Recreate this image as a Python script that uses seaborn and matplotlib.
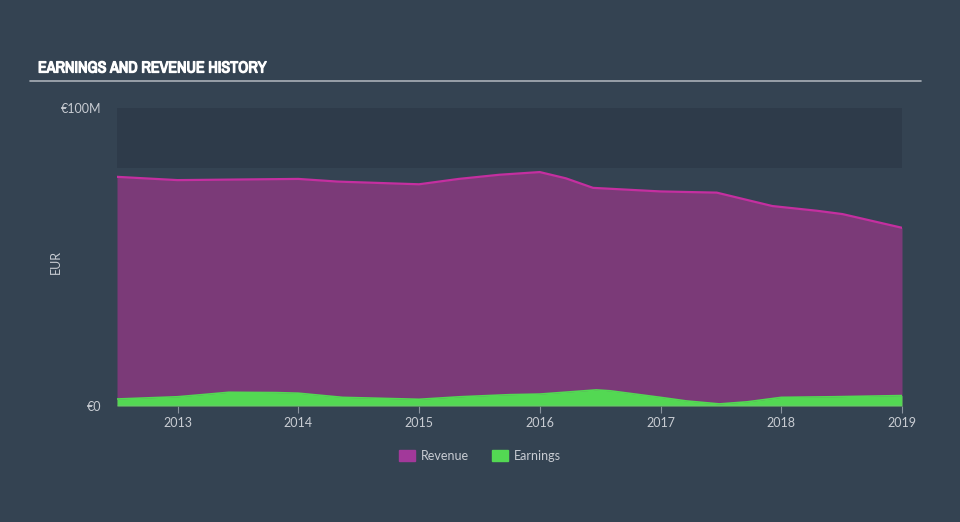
import matplotlib
matplotlib.use("Agg")
import matplotlib.pyplot as plt
from matplotlib import font_manager
from matplotlib.patches import Patch
import matplotlib.patheffects as pe
import seaborn as sns
import pandas as pd

# ---- data (€ millions) ----
revenue_dates = ["2012-07-01", "2013-01-01", "2014-01-01", "2014-05-01", "2015-01-01",
                 "2015-05-01", "2015-09-01", "2016-01-01", "2016-03-20", "2016-06-10",
                 "2017-01-01", "2017-06-20", "2017-12-05", "2018-04-20", "2018-07-05",
                 "2019-01-01"]
revenue = [76.9, 75.8, 76.2, 75.3, 74.4, 76.2, 77.6, 78.5, 76.4, 73.2,
           72.0, 71.6, 67.1, 65.5, 64.4, 59.8]

earnings_dates = ["2012-07-01", "2013-01-01", "2013-04-05", "2013-06-05", "2013-10-25",
                  "2014-01-01", "2014-05-15", "2014-09-01", "2015-01-01", "2015-05-05",
                  "2015-10-01", "2016-01-01", "2016-06-20", "2016-08-01", "2017-01-01",
                  "2017-03-20", "2017-06-28", "2017-09-20", "2018-01-01", "2018-06-05",
                  "2019-01-01"]
earnings = [2.35, 3.1, 4.0, 4.6, 4.5, 4.3, 2.9, 2.6, 2.25, 3.1,
            3.8, 4.0, 5.4, 5.1, 2.9, 1.7, 0.7, 1.4, 2.9, 3.1, 3.5]

year_ticks = [2013, 2014, 2015, 2016, 2017, 2018, 2019]
y_tick_vals = [0, 100]
y_tick_labels = ["€0", "€100M"]
series_names = ["Revenue", "Earnings"]


def to_year(ds):
    d = pd.to_datetime(ds)
    return d.year + (d.dayofyear - 1) / 365.0


rev_df = pd.DataFrame({"x": to_year(revenue_dates), "value": revenue})
earn_df = pd.DataFrame({"x": to_year(earnings_dates), "value": earnings})

bg = "#344352"
sns.set_theme(style="dark")
plt.rcParams["font.family"] = ["Lato", "DejaVu Sans"]

# find a narrow / condensed family for the title if one is installed
narrow = None
for f in font_manager.fontManager.ttflist:
    n = f.name.lower()
    if "narrow" in n or "condensed" in n:
        narrow = f.name
        break
title_family = [narrow, "DejaVu Sans"] if narrow else ["DejaVu Sans"]
title_stretch = "normal" if narrow else "condensed"

fig = plt.figure(figsize=(9.6, 5.22), dpi=100, facecolor=bg)
ax = fig.add_axes([117/960, 1-406/522, (902-117)/960, (406-108)/522])
ax.set_facecolor(bg)
ax.axhspan(80, 100, color="#2e3b4a", zorder=0, lw=0)

rev_col = "#c42fa0"
rev_fill = "#7b3a78"
earn_col = "#53d853"

ax.fill_between(rev_df["x"], 0, rev_df["value"], color=rev_fill, lw=0, zorder=1)
sns.lineplot(data=rev_df, x="x", y="value", ax=ax, color=rev_col, lw=1.6, zorder=2)
ax.fill_between(earn_df["x"], 0, earn_df["value"], color=earn_col, lw=0, zorder=3)
sns.lineplot(data=earn_df, x="x", y="value", ax=ax, color=earn_col, lw=1.2, zorder=4)

ax.set_xlim(rev_df["x"].min(), rev_df["x"].max())
ax.set_ylim(0, 100)
ax.set_xticks(year_ticks)
ax.set_xticklabels([str(y) for y in year_ticks], color="#c8ccd2", fontsize=9)
ax.set_yticks(y_tick_vals)
ax.set_yticklabels(y_tick_labels, color="#c8ccd2", fontsize=9)
ax.tick_params(axis="x", length=5, width=0.8, color="#8a939e", pad=3, bottom=True)
ax.tick_params(axis="y", length=0, pad=11)
ax.set_xlabel("")
ax.set_ylabel("EUR", color="#c8ccd2", fontsize=9)
ax.yaxis.set_label_coords((62-117)/785, (406-262)/298)
for s in ax.spines.values():
    s.set_visible(False)
ax.axhline(0, color="#9aa3ad", lw=1, zorder=5)
ax.grid(False)

# title and underline
fig.text(38/960, 1-68/522, "EARNINGS AND REVENUE HISTORY", color="white",
         fontsize=11.5, fontweight="bold", family=title_family, stretch=title_stretch,
         va="center", ha="left",
         path_effects=[pe.withStroke(linewidth=0.9, foreground="white")])
fig.add_artist(plt.Line2D([30/960, 921/960], [1-81/522, 1-81/522],
                          color="#a9b0b8", lw=1.2))

# legend
handles = [Patch(color="#a2399a", label=series_names[0]),
           Patch(color=earn_col, label=series_names[1])]
leg = fig.legend(handles=handles, loc="center", bbox_to_anchor=(0.5, 1-456/522),
                 ncol=2, frameon=False, fontsize=9, handlelength=1.3, handleheight=1.0,
                 columnspacing=1.8, handletextpad=0.5)
for t in leg.get_texts():
    t.set_color("#c8ccd2")

fig.savefig("out.png", dpi=100, facecolor=bg)
